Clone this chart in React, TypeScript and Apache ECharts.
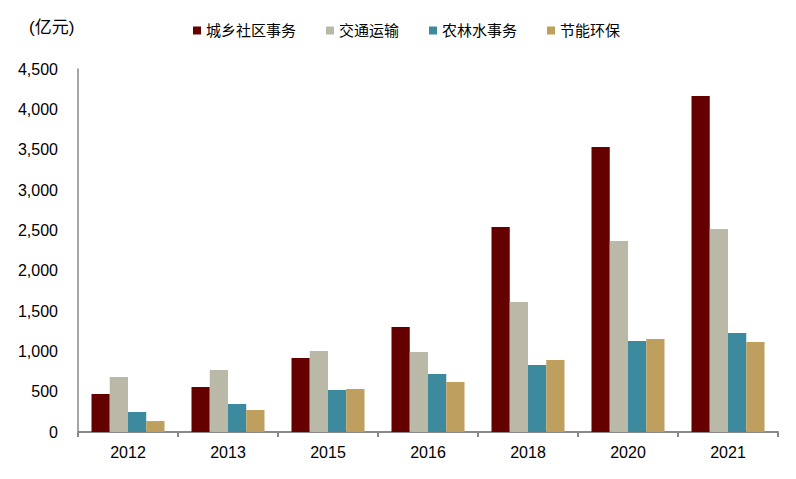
import React, { useEffect, useRef } from "react";
import * as echarts from "echarts";

const years = ["2012", "2013", "2015", "2016", "2018", "2020", "2021"];
const urbanRural = [471, 558, 917, 1302, 2541, 3533, 4165];
const transport = [682, 769, 1004, 992, 1611, 2368, 2516];
const agriWater = [248, 347, 521, 719, 830, 1128, 1227];
const energyEnv = [136, 273, 533, 620, 892, 1153, 1116];
const seriesNames = ["城乡社区事务", "交通运输", "农林水事务", "节能环保"];
const colors = ["#640000", "#BAB9A7", "#3D899D", "#BF9F5E"];

const FONT = "'Liberation Sans', Arial, 'Noto Sans CJK SC', sans-serif";

export default function App() {
  const ref = useRef<HTMLDivElement>(null);
  useEffect(() => {
    document.body.style.margin = "0";
    if (!ref.current) return;
    const chart = echarts.init(ref.current, undefined, { renderer: "svg" });
    const dataSets = [urbanRural, transport, agriWater, energyEnv];
    chart.setOption({
      animation: false,
      backgroundColor: "#fff",
      textStyle: { fontFamily: FONT },
      graphic: [
        {
          type: "text",
          left: 29,
          top: 19,
          style: { text: "(亿元)", font: `17px ${FONT}`, fill: "#000" },
        },
      ],
      legend: {
        left: 188,
        top: 18,
        itemWidth: 8,
        itemHeight: 8,
        itemGap: 30,
        icon: "rect",
        textStyle: { fontSize: 15, color: "#000", fontFamily: FONT },
        data: seriesNames,
      },
      grid: { left: 78, right: 18, top: 69, bottom: 47, containLabel: false },
      xAxis: {
        type: "category",
        data: years,
        boundaryGap: true,
        axisLine: { lineStyle: { color: "#898989", width: 2 } },
        axisTick: { show: true, length: 5, lineStyle: { color: "#898989", width: 2 } },
        axisLabel: { fontSize: 16, color: "#000", margin: 12, fontFamily: FONT },
      },
      yAxis: {
        type: "value",
        min: 0,
        max: 4500,
        interval: 500,
        axisLine: { show: true, lineStyle: { color: "#898989", width: 1.5 } },
        axisTick: { show: false },
        splitLine: { show: false },
        axisLabel: {
          fontSize: 16,
          color: "#000",
          margin: 20,
          fontFamily: FONT,
          formatter: (v: number) => v.toLocaleString("en-US"),
        },
      },
      series: seriesNames.map((name, i) => ({
        name,
        type: "bar",
        data: dataSets[i],
        barGap: "0%",
        barCategoryGap: "27%",
        itemStyle: { color: colors[i] },
      })),
    });
    return () => chart.dispose();
  }, []);
  return <div ref={ref} style={{ width: 796, height: 479 }} />;
}
